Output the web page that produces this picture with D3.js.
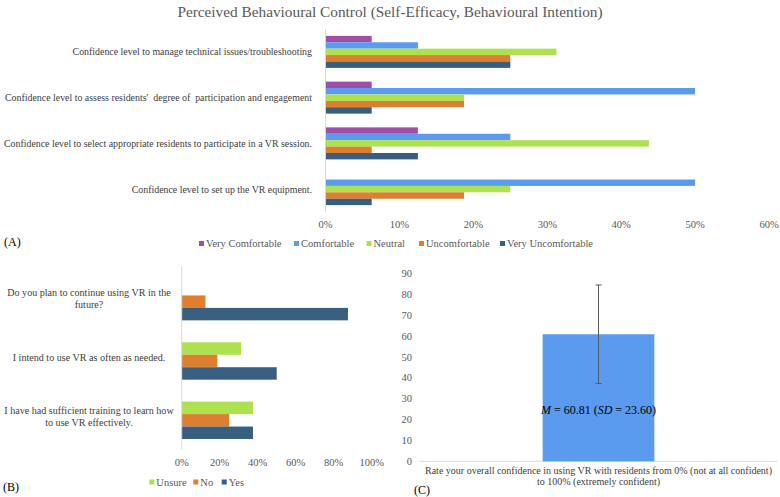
<!DOCTYPE html>
<html>
<head>
<meta charset="utf-8">
<script src="https://cdn.jsdelivr.net/npm/d3@7"></script>
<style>
  body { margin: 0; background: #fff; }
</style>
</head>
<body>
<div id="chart"></div>
<script>
// ---- data ----
const title = 'Perceived Behavioural Control (Self-Efficacy, Behavioural Intention)';

// panel A
const aCategories = [
  'Confidence level to manage technical issues/troubleshooting',
  "Confidence level to assess residents'  degree of  participation and engagement",
  'Confidence level to select appropriate residents to participate in a VR session.',
  'Confidence level to set up the VR equipment.'
];
const aSeries = ['Very Comfortable', 'Comfortable', 'Neutral', 'Uncomfortable', 'Very Uncomfortable'];
const aVeryComfortable = [0.0625, 0.0625, 0.125, 0];
const aComfortable = [0.125, 0.5, 0.25, 0.5];
const aNeutral = [0.3125, 0.1875, 0.4375, 0.25];
const aUncomfortable = [0.25, 0.1875, 0.0625, 0.1875];
const aVeryUncomfortable = [0.25, 0.0625, 0.125, 0.0625];
const aTicks = [0, 0.1, 0.2, 0.3, 0.4, 0.5, 0.6];

// panel B
const bCategories = [
  'Do you plan to continue using VR in the\nfuture?',
  'I intend to use VR as often as needed.',
  'I have had sufficient training to learn how\nto use VR effectively.'
];
const bSeries = ['Unsure', 'No', 'Yes'];
const bUnsure = [0, 0.3125, 0.375];
const bNo = [0.125, 0.1875, 0.25];
const bYes = [0.875, 0.5, 0.375];
const bTicks = [0, 0.2, 0.4, 0.6, 0.8, 1];

// panel C
const cCategory = ['Rate your overall confidence in using VR with residents from 0% (not at all confident)\nto 100% (extremely confident)'];
const cMean = [60.81];
const cSD = [23.60];
const cTicks = [0, 10, 20, 30, 40, 50, 60, 70, 80, 90];

const colors = {
  'Very Comfortable': '#9f50a6',
  'Comfortable': '#5a9bf0',
  'Neutral': '#ade24f',
  'Uncomfortable': '#de7f2f',
  'Very Uncomfortable': '#385e80',
  'Unsure': '#ade24f',
  'No': '#de7f2f',
  'Yes': '#385e80'
};

const textColor = '#595959';
const axisColor = '#d9d9d9';
const serif = '"Liberation Serif"';

const svg = d3.select('#chart').append('svg')
  .attr('width', 780)
  .attr('height', 497);

// title
svg.append('text')
  .attr('x', 390)
  .attr('y', 12)
  .attr('dy', '0.35em')
  .attr('text-anchor', 'middle')
  .style('font-size', '15.3px')
  .attr('fill', textColor)
  .text(title);

// multi-line text helper
function multiline(sel, str, lineH) {
  const lines = str.split('\n');
  const off = -(lines.length - 1) * lineH / 2;
  lines.forEach((l, i) => {
    sel.append('tspan')
      .attr('x', sel.attr('x'))
      .attr('dy', i === 0 ? off : lineH)
      .text(l);
  });
}

// ---------- panel A ----------
const aValues = {
  'Very Comfortable': aVeryComfortable,
  'Comfortable': aComfortable,
  'Neutral': aNeutral,
  'Uncomfortable': aUncomfortable,
  'Very Uncomfortable': aVeryUncomfortable
};
const aData = aCategories.map((c, i) => ({
  cat: c,
  values: aSeries.map(s => ({ key: s, value: aValues[s][i] }))
}));

const ax = d3.scaleLinear().domain([0, 0.6]).range([325.5, 769]);
const ay = d3.scaleBand().domain(aCategories).range([29, 212]).paddingInner(0.3).paddingOuter(0.15);
const ayInner = d3.scaleBand().domain(aSeries).range([0, ay.bandwidth()]);

const aChart = svg.append('g');

aChart.selectAll('.a-group')
  .data(aData)
  .join('g')
  .attr('class', 'a-group')
  .attr('transform', d => `translate(0, ${ay(d.cat)})`)
  .selectAll('rect')
  .data(d => d.values)
  .join('rect')
  .attr('x', ax(0))
  .attr('y', d => ayInner(d.key))
  .attr('width', d => ax(d.value) - ax(0))
  .attr('height', ayInner.bandwidth())
  .attr('fill', d => colors[d.key]);

aChart.append('line')
  .attr('x1', ax(0)).attr('x2', ax(0))
  .attr('y1', 29).attr('y2', 212)
  .attr('stroke', axisColor);

aChart.selectAll('.a-cat')
  .data(aCategories)
  .join('text')
  .attr('class', 'a-cat')
  .attr('x', 312)
  .attr('y', d => ay(d) + ay.bandwidth() / 2)
  .attr('dy', '0.35em')
  .attr('text-anchor', 'end')
  .style('font-size', '9.9px')
  .style('white-space', 'pre')
  .attr('fill', '#404040')
  .text(d => d);

aChart.selectAll('.a-tick')
  .data(aTicks)
  .join('text')
  .attr('class', 'a-tick')
  .attr('x', d => ax(d))
  .attr('y', 224)
  .attr('dy', '0.35em')
  .attr('text-anchor', 'middle')
  .style('font-size', '10.5px')
  .attr('fill', textColor)
  .text(d3.format('.0%'));

// legend A
const aLegX = [199, 294, 366.5, 419, 500];
const aLeg = aChart.selectAll('.a-leg')
  .data(aSeries)
  .join('g')
  .attr('class', 'a-leg')
  .attr('transform', (d, i) => `translate(${aLegX[i]}, 243.5)`);
aLeg.append('rect')
  .attr('x', 0).attr('y', -2.5)
  .attr('width', 5).attr('height', 5)
  .attr('fill', d => colors[d]);
aLeg.append('text')
  .attr('x', 7)
  .attr('dy', '0.35em')
  .style('font-size', '10.5px')
  .attr('fill', textColor)
  .text(d => d);

svg.append('text')
  .attr('x', 4).attr('y', 242)
  .attr('dy', '0.35em')
  .style('font-size', '12px')
  .attr('fill', '#000')
  .text('(A)');

// ---------- panel B ----------
const bValues = { 'Unsure': bUnsure, 'No': bNo, 'Yes': bYes };
const bData = bCategories.map((c, i) => ({
  cat: c,
  values: bSeries.map(s => ({ key: s, value: bValues[s][i] }))
}));

const bx = d3.scaleLinear().domain([0, 1]).range([181.7, 371.7]);
const by = d3.scaleBand().domain(bCategories).range([272, 450]).paddingInner(0.37).paddingOuter(0.185);
const byInner = d3.scaleBand().domain(bSeries).range([0, by.bandwidth()]);

const bChart = svg.append('g');

bChart.selectAll('.b-group')
  .data(bData)
  .join('g')
  .attr('class', 'b-group')
  .attr('transform', d => `translate(0, ${by(d.cat)})`)
  .selectAll('rect')
  .data(d => d.values)
  .join('rect')
  .attr('x', bx(0))
  .attr('y', d => byInner(d.key))
  .attr('width', d => bx(d.value) - bx(0))
  .attr('height', byInner.bandwidth())
  .attr('fill', d => colors[d.key]);

bChart.append('line')
  .attr('x1', bx(0)).attr('x2', bx(0))
  .attr('y1', 267).attr('y2', 449)
  .attr('stroke', axisColor);

bChart.selectAll('.b-cat')
  .data(bCategories)
  .join('text')
  .attr('class', 'b-cat')
  .attr('x', 89)
  .attr('y', d => by(d) + by.bandwidth() / 2)
  .attr('dy', '0.35em')
  .attr('text-anchor', 'middle')
  .style('font-size', '10.1px')
  .attr('fill', '#404040')
  .each(function (d) { multiline(d3.select(this), d, 11.7); });

bChart.selectAll('.b-tick')
  .data(bTicks)
  .join('text')
  .attr('class', 'b-tick')
  .attr('x', d => bx(d))
  .attr('y', 462)
  .attr('dy', '0.35em')
  .attr('text-anchor', 'middle')
  .style('font-size', '10.5px')
  .attr('fill', textColor)
  .text(d3.format('.0%'));

const bLegX = [149.3, 193.3, 221.7];
const bLeg = bChart.selectAll('.b-leg')
  .data(bSeries)
  .join('g')
  .attr('class', 'b-leg')
  .attr('transform', (d, i) => `translate(${bLegX[i]}, 482)`);
bLeg.append('rect')
  .attr('x', 0).attr('y', -2.5)
  .attr('width', 5).attr('height', 5)
  .attr('fill', d => colors[d]);
bLeg.append('text')
  .attr('x', 7)
  .attr('dy', '0.35em')
  .style('font-size', '10.5px')
  .attr('fill', textColor)
  .text(d => d);

svg.append('text')
  .attr('x', 3).attr('y', 487)
  .attr('dy', '0.35em')
  .style('font-size', '12px')
  .attr('fill', '#000')
  .text('(B)');

// ---------- panel C ----------
const cy = d3.scaleLinear().domain([0, 90]).range([461.3, 273.3]);
const cx = d3.scaleBand().domain(cCategory).range([420, 777]).padding(0.5234);

const cChart = svg.append('g');

cChart.append('line')
  .attr('x1', 420).attr('x2', 777)
  .attr('y1', cy(0)).attr('y2', cy(0))
  .attr('stroke', axisColor);

cChart.selectAll('.c-tick')
  .data(cTicks)
  .join('text')
  .attr('class', 'c-tick')
  .attr('x', 412)
  .attr('y', d => cy(d))
  .attr('dy', '0.35em')
  .attr('text-anchor', 'end')
  .style('font-size', '10.5px')
  .attr('fill', textColor)
  .text(d => d);

cChart.selectAll('.c-bar')
  .data(cCategory)
  .join('rect')
  .attr('class', 'c-bar')
  .attr('x', d => cx(d))
  .attr('y', (d, i) => cy(cMean[i]))
  .attr('width', cx.bandwidth())
  .attr('height', (d, i) => cy(0) - cy(cMean[i]))
  .attr('fill', '#5a9bf0');

// error bar
cCategory.forEach((d, i) => {
  const mx = cx(d) + cx.bandwidth() / 2;
  const top = cy(cMean[i] + cSD[i]);
  const bot = cy(cMean[i] - cSD[i]);
  const err = cChart.append('g').attr('stroke', '#595959').attr('stroke-width', 1);
  err.append('line').attr('x1', mx).attr('x2', mx).attr('y1', top).attr('y2', bot);
  err.append('line').attr('x1', mx - 3).attr('x2', mx + 3).attr('y1', top).attr('y2', top);
  err.append('line').attr('x1', mx - 3).attr('x2', mx + 3).attr('y1', bot).attr('y2', bot);

  const lbl = cChart.append('text')
    .attr('x', mx)
    .attr('y', 409.5)
    .attr('dy', '0.35em')
    .attr('text-anchor', 'middle')
    .style('font-size', '12px')
    .attr('fill', '#000');
  lbl.append('tspan').style('font-style', 'italic').text('M');
  lbl.append('tspan').text(` = ${cMean[i].toFixed(2)} (`);
  lbl.append('tspan').style('font-style', 'italic').text('SD');
  lbl.append('tspan').text(` = ${cSD[i].toFixed(2)})`);
});

cChart.selectAll('.c-cat')
  .data(cCategory)
  .join('text')
  .attr('class', 'c-cat')
  .attr('x', d => cx(d) + cx.bandwidth() / 2)
  .attr('y', 479)
  .attr('dy', '0.35em')
  .attr('text-anchor', 'middle')
  .style('font-size', '10px')
  .attr('fill', '#404040')
  .each(function (d) { multiline(d3.select(this), d, 11); });

svg.append('text')
  .attr('x', 414).attr('y', 490)
  .attr('dy', '0.35em')
  .style('font-size', '12px')
  .attr('fill', '#000')
  .text('(C)');

// every text in the serif face
svg.selectAll('text').style('font-family', serif);
</script>
</body>
</html>
